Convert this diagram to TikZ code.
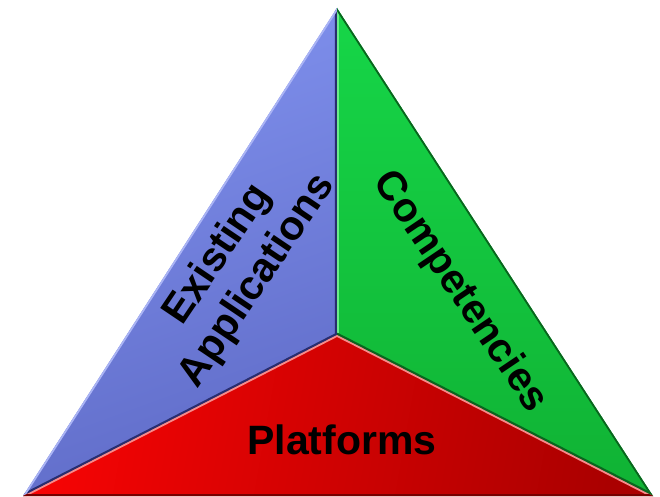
\documentclass[tikz,border=0pt]{standalone}
\usepackage{fontspec}
\setmainfont{Liberation Sans}
\begin{document}
\begin{tikzpicture}[x=1pt,y=-1pt,
  lbl/.style={font=\bfseries\fontsize{41}{47}\selectfont, text=black, align=center, inner sep=0pt},
  edge/.style={line width=4.5pt, line cap=round, line join=round}]
\definecolor{bluehi}{RGB}{128,145,238}
\definecolor{bluelo}{RGB}{96,108,200}
\definecolor{greenhi}{RGB}{22,214,72}
\definecolor{greenlo}{RGB}{16,178,52}
\definecolor{redhi}{RGB}{246,4,4}
\definecolor{redlo}{RGB}{170,0,0}
\definecolor{navy}{RGB}{40,45,110}
\definecolor{dkgreen}{RGB}{10,100,30}
\definecolor{pinkhi}{RGB}{245,140,140}
\definecolor{lgreen}{RGB}{110,235,140}
\definecolor{lblue}{RGB}{170,180,245}
\useasboundingbox (0,0) rectangle (660,497);
\coordinate (A) at (337,8);
\coordinate (L) at (23,496);
\coordinate (R) at (653,496);
\coordinate (C) at (337,335);
% faces
\shade[top color=bluehi, bottom color=bluelo, shading angle=20] (A) -- (C) -- (L) -- cycle;
\shade[top color=greenhi, bottom color=greenlo] (A) -- (R) -- (C) -- cycle;
\shade[left color=redhi, right color=redlo, shading angle=80] (L) -- (C) -- (R) -- cycle;
% edge highlights / shadows
\begin{scope}
\clip (A) -- (C) -- (L) -- cycle;
\draw[edge, navy] (A) -- (C) -- (L);
\draw[edge, lblue, line width=3.5pt] (A) -- (L);
\end{scope}
\begin{scope}
\clip (A) -- (R) -- (C) -- cycle;
\draw[edge, lgreen, line width=3.5pt] (A) -- (C);
\draw[edge, dkgreen] (C) -- (R);
\draw[edge, dkgreen, line width=3.5pt] (A) -- (R);
\end{scope}
\begin{scope}
\clip (L) -- (C) -- (R) -- cycle;
\draw[edge, pinkhi, line width=3.5pt] (L) -- (C) -- (R);
\draw[edge, redlo!70!black, line width=3.5pt] (L) -- (R);
\end{scope}
% labels
\node[lbl, rotate=56] (ea) at (238,268) {Existing\\Applications};
\node[lbl, rotate=-56] (cp) at (460,292) {Competencies};
\node[lbl] (pf) at (342,440) {Platforms};
\end{tikzpicture}
\end{document}
